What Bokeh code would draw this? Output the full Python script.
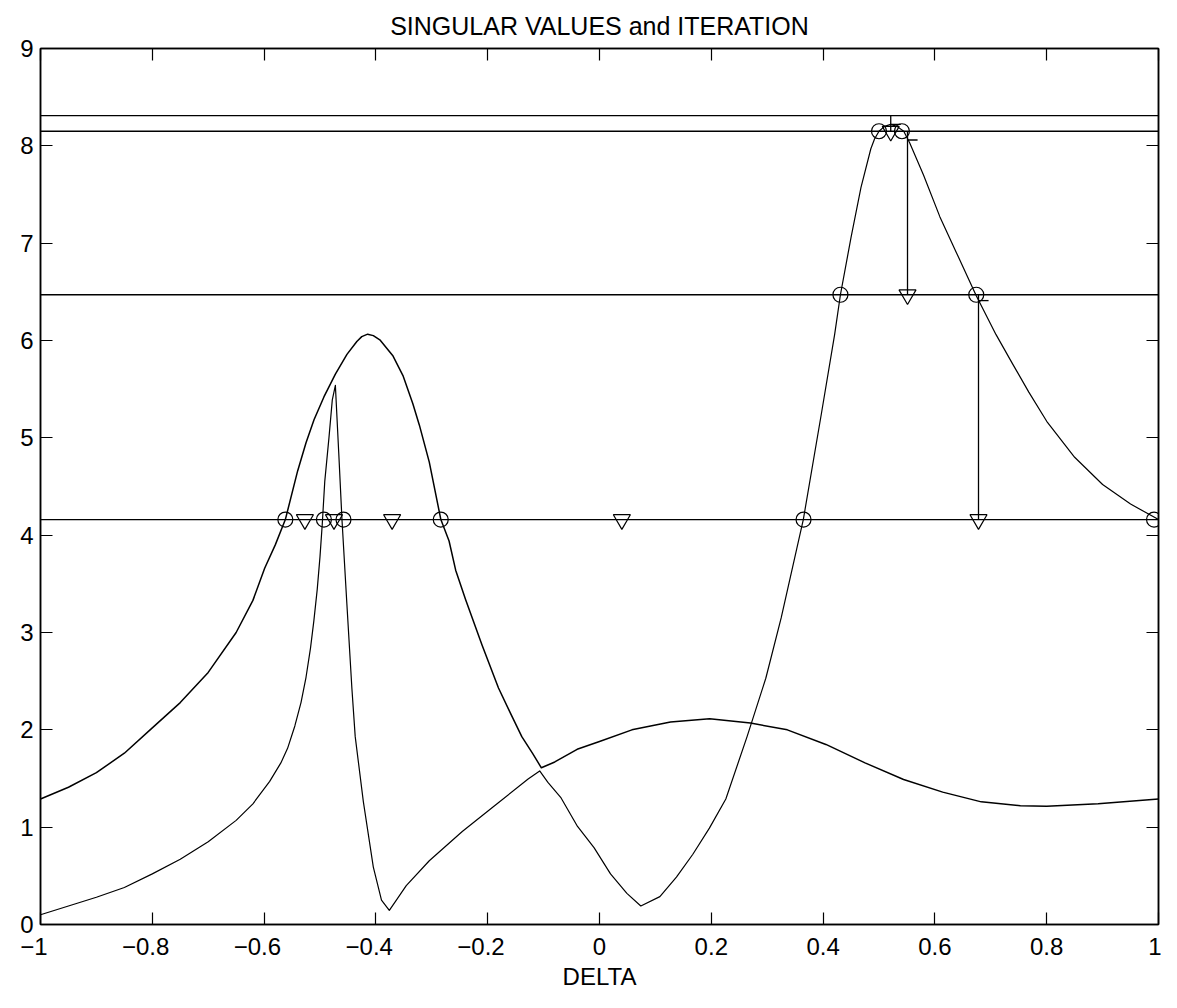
from bokeh.plotting import figure
from bokeh.models import LinearAxis, FixedTicker, Range1d
from bokeh.embed import file_html
from bokeh.resources import INLINE

# ---- data ----
# upper singular-value curve (hump at -0.41, then low hump on the right)
delta_a = [-1.00, -0.95, -0.90, -0.85, -0.80, -0.75, -0.70, -0.65, -0.62, -0.599,
           -0.58, -0.562, -0.54, -0.525, -0.5107, -0.493, -0.4725, -0.4518, -0.4341,
           -0.4253, -0.4147, -0.4046, -0.393, -0.3693, -0.3516, -0.3339, -0.3222,
           -0.3045, -0.2838, -0.2691, -0.2573, -0.2396, -0.21, -0.1807, -0.16, -0.139,
           -0.12, -0.104, -0.08, -0.04, 0.00, 0.058, 0.127, 0.197, 0.27, 0.336, 0.405,
           0.475, 0.544, 0.614, 0.683, 0.753, 0.80, 0.892, 1.00]
sigma_a = [1.29, 1.41, 1.56, 1.76, 2.02, 2.28, 2.59, 3.00, 3.33, 3.66,
           3.90, 4.16, 4.66, 4.95, 5.185, 5.42, 5.655, 5.857, 5.99,
           6.04, 6.065, 6.05, 6.007, 5.84, 5.64, 5.35, 5.13,
           4.75, 4.16, 3.94, 3.64, 3.34, 2.87, 2.43, 2.18, 1.93,
           1.76, 1.61, 1.67, 1.80, 1.88, 2.00, 2.08, 2.115, 2.07, 2.00, 1.85,
           1.66, 1.49, 1.36, 1.26, 1.22, 1.215, 1.24, 1.29]

# lower singular-value curve (spike at -0.47, dips, big peak at 0.52)
delta_b = [-1.00, -0.95, -0.90, -0.85, -0.80, -0.75, -0.70, -0.65, -0.62, -0.59,
           -0.57, -0.558, -0.545, -0.534, -0.525, -0.517, -0.511, -0.505, -0.50,
           -0.496, -0.4915, -0.484, -0.478, -0.4725,
           -0.4665, -0.4607, -0.452, -0.443, -0.437, -0.4224, -0.4046, -0.39, -0.376,
           -0.3634, -0.3457, -0.3045, -0.2455, -0.1866, -0.1277, -0.107,
           -0.0923, -0.0687, -0.0393, -0.0098, 0.0197, 0.049, 0.0739, 0.108,
           0.1376, 0.167, 0.1966, 0.226, 0.264, 0.2975, 0.325,
           0.3528, 0.3646, 0.397, 0.4206, 0.431, 0.45, 0.4677, 0.4854, 0.492, 0.50,
           0.51, 0.5208, 0.532, 0.5443, 0.555, 0.5796, 0.609, 0.6387, 0.674, 0.7094,
           0.74, 0.768, 0.80, 0.85, 0.90, 0.95, 1.00]
sigma_b = [0.10, 0.19, 0.28, 0.38, 0.52, 0.67, 0.85, 1.07, 1.24, 1.47,
           1.66, 1.81, 2.04, 2.28, 2.54, 2.84, 3.12, 3.44, 3.78,
           4.11, 4.55, 5.00, 5.39, 5.54,
           4.85, 4.16, 3.30, 2.43, 1.93, 1.26, 0.59, 0.25, 0.145,
           0.25, 0.40, 0.655, 0.956, 1.225, 1.494, 1.578,
           1.46, 1.30, 1.007, 0.79, 0.52, 0.32, 0.19, 0.286,
           0.487, 0.722, 0.99, 1.29, 1.93, 2.53, 3.15,
           3.86, 4.16, 5.25, 6.06, 6.47, 7.06, 7.57, 7.97, 8.07, 8.15,
           8.20, 8.22, 8.20, 8.15, 8.03, 7.70, 7.27, 6.90, 6.46, 6.06,
           5.75, 5.47, 5.17, 4.80, 4.52, 4.32, 4.16]

# iteration levels (horizontal lines)
levels = [4.16, 6.47, 8.15, 8.31]

# crossings of each level (circles)
circle_delta = [-0.562, -0.493, -0.458, -0.284, 0.365, 0.992, 0.431, 0.674, 0.500, 0.541]
circle_level = [4.16, 4.16, 4.16, 4.16, 4.16, 4.16, 6.47, 6.47, 8.15, 8.15]

# interval midpoints (triangles)
mid_delta = [-0.527, -0.475, -0.371, 0.040, 0.678, 0.551, 0.521]
mid_level = [4.16, 4.16, 4.16, 4.16, 4.16, 6.47, 8.15]

# steps to the next level (vertical lines) and singular value at the midpoint
step_delta = [0.678, 0.551, 0.521]
step_from = [4.16, 6.47, 8.15]
step_to = [6.47, 8.15, 8.31]
step_sigma = [6.41, 8.06, 8.22]
step_tick_len = 0.018

x_ticks = [-1.0, -0.8, -0.6, -0.4, -0.2, 0.0, 0.2, 0.4, 0.6, 0.8, 1.0]
x_tick_labels = ["\u22121\u2007", "\u22120.8\u2007", "\u22120.6\u2007", "\u22120.4\u2007",
                 "\u22120.2\u2007", "0", "0.2", "0.4", "0.6", "0.8", "1"]
y_ticks = [0, 1, 2, 3, 4, 5, 6, 7, 8, 9]

FONT = "Liberation Sans"
FS = "24px"

p = figure(width=1161, height=992, x_range=Range1d(-1, 1), y_range=Range1d(0, 9),
           output_backend="svg", toolbar_location=None,
           title="SINGULAR VALUES and ITERATION",
           min_border_left=40, min_border_right=3, min_border_top=47, min_border_bottom=60)

p.title.align = "center"
p.title.text_font = FONT
p.title.text_font_size = "25px"
p.title.text_font_style = "normal"
p.title.text_color = "black"
p.title.standoff = 18

p.grid.visible = False
p.background_fill_color = "white"
p.border_fill_color = "white"
p.outline_line_color = "black"
p.outline_line_width = 1.5

xax = p.xaxis[0]
xax.ticker = FixedTicker(ticks=x_ticks)
xax.major_label_overrides = {t: l for t, l in zip(x_ticks, x_tick_labels)}
xax.axis_label = "DELTA"
yax = p.yaxis[0]
yax.ticker = FixedTicker(ticks=y_ticks)

top_ax = LinearAxis(ticker=FixedTicker(ticks=x_ticks))
right_ax = LinearAxis(ticker=FixedTicker(ticks=y_ticks))
p.add_layout(top_ax, "above")
p.add_layout(right_ax, "right")

for ax in [xax, yax, top_ax, right_ax]:
    ax.axis_line_color = "black"
    ax.axis_line_width = 1.5
    ax.major_tick_line_color = "black"
    ax.major_tick_line_width = 1.2
    ax.major_tick_in = 12
    ax.major_tick_out = 0
    ax.minor_tick_line_color = None
    ax.major_label_text_font = FONT
    ax.major_label_text_font_size = FS
    ax.major_label_text_color = "black"
    ax.axis_label_text_font = FONT
    ax.axis_label_text_font_size = FS
    ax.axis_label_text_font_style = "normal"
    ax.axis_label_text_color = "black"

# top and right axes carry only the inward ticks of the box
for ax in [top_ax, right_ax]:
    ax.major_label_text_color = None
    ax.major_label_text_font_size = "1px"
    ax.major_label_standoff = 0

xax.major_label_standoff = 8
xax.axis_label_standoff = 0
yax.major_label_standoff = 7

LW = 1.3
# curves
p.line(delta_a, sigma_a, line_color="black", line_width=1.5, line_join="round")
p.line(delta_b, sigma_b, line_color="black", line_width=1.2, line_join="round")

# levels
p.segment(x0=[-1.0] * len(levels), x1=[1.0] * len(levels), y0=levels, y1=levels,
          line_color="black", line_width=LW)

# steps
p.segment(x0=step_delta, x1=step_delta, y0=step_from, y1=step_to,
          line_color="black", line_width=LW)
p.segment(x0=step_delta, x1=[d + step_tick_len for d in step_delta],
          y0=step_sigma, y1=step_sigma, line_color="black", line_width=LW)

# markers
p.scatter(circle_delta, circle_level, marker="circle", size=15,
          fill_color=None, line_color="black", line_width=1.2)
p.scatter(mid_delta, mid_level, marker="inverted_triangle", size=17,
          fill_color=None, line_color="black", line_width=1.2)

open("out.html", "w").write(file_html(p, INLINE))
